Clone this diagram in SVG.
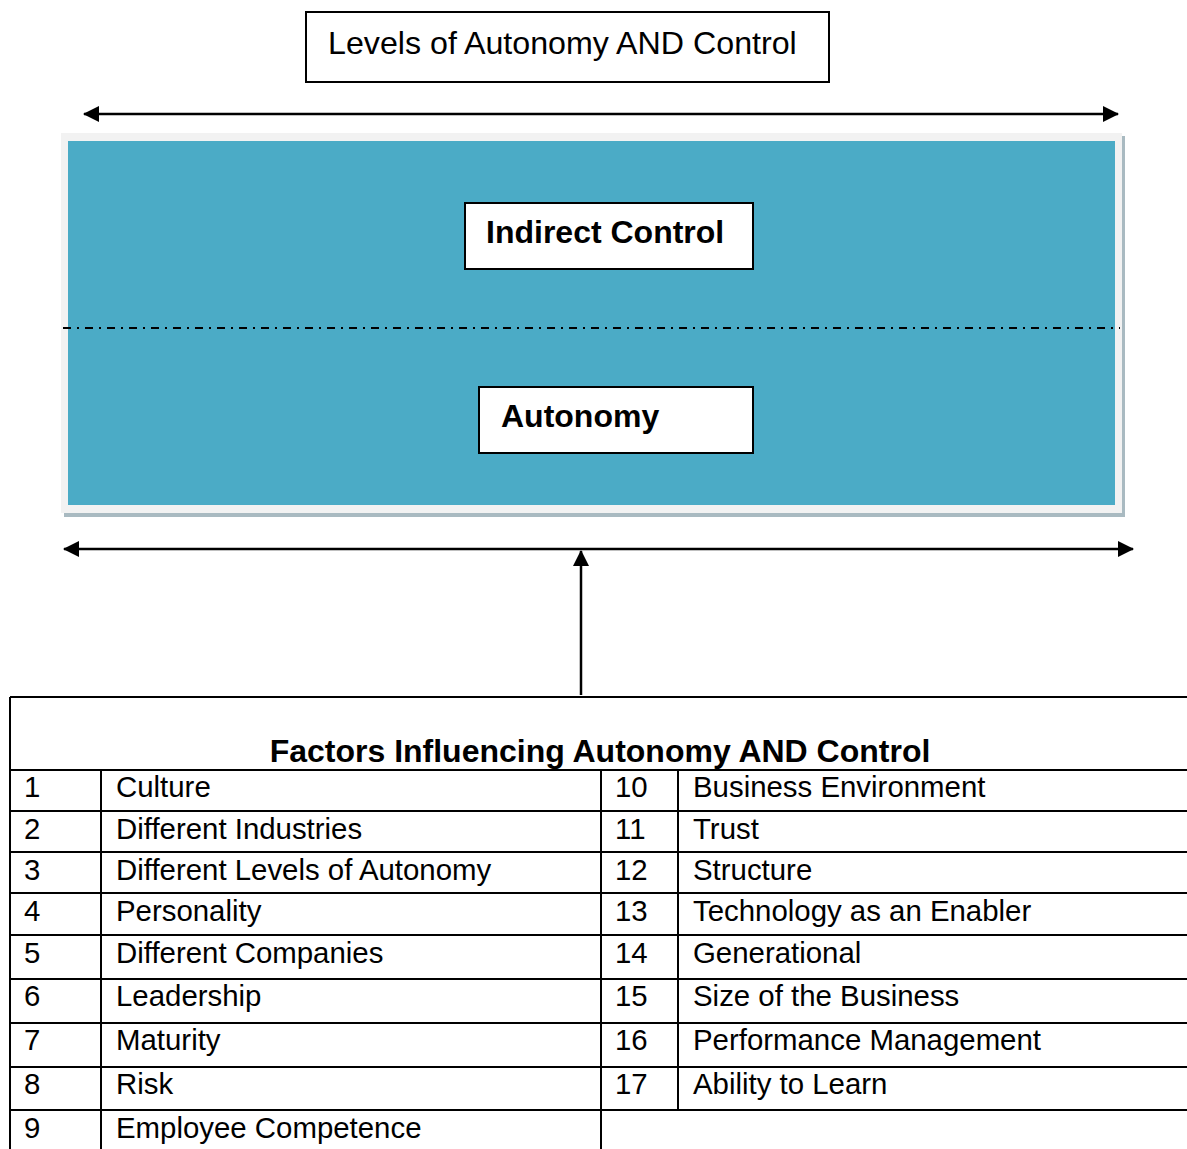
<svg xmlns="http://www.w3.org/2000/svg" width="1187" height="1149" viewBox="0 0 1187 1149">
<defs>
<marker id="ah" viewBox="0 0 16 16" refX="15" refY="8" markerWidth="16" markerHeight="16" markerUnits="userSpaceOnUse" orient="auto-start-reverse">
<path d="M0,0 L16,8 L0,16 Z" fill="#000"/>
</marker>
<style>
text{font-family:"Liberation Sans",Arial,sans-serif;fill:#000}
.t{font-size:29.4px}
.b{font-size:32px;font-weight:bold}
.box{fill:#fff;stroke:#000;stroke-width:2}
.ln{stroke:#000;stroke-width:2;fill:none}
.arr{stroke:#000;stroke-width:2.5;fill:none}
</style>
</defs>
<rect width="1187" height="1149" fill="#fff"/>

<g id="title">
<rect class="box" x="306" y="12" width="523" height="70"/>
<text x="328" y="54" style="font-size:32.2px">Levels of Autonomy AND Control</text>
</g>

<g id="panel">
<rect x="64" y="136" width="1061" height="381" fill="#a9bac1"/>
<rect x="61" y="133" width="1061" height="380" fill="#f2f2f2"/>
<rect x="68" y="141" width="1047" height="364" fill="#4babc6"/>
<line x1="63" y1="328" x2="1120" y2="328" stroke="#000" stroke-width="2" stroke-dasharray="8,6,2,6"/>
</g>

<g id="indirect-control">
<rect class="box" x="465" y="203" width="288" height="66"/>
<text class="b" x="486" y="243">Indirect Control</text>
</g>

<g id="autonomy">
<rect class="box" x="479" y="387" width="274" height="66"/>
<text class="b" x="501" y="427">Autonomy</text>
</g>

<g id="connectors">
<line class="arr" x1="84" y1="114" x2="1118" y2="114" marker-start="url(#ah)" marker-end="url(#ah)"/>
<line class="arr" x1="64" y1="549" x2="1133" y2="549" marker-start="url(#ah)" marker-end="url(#ah)"/>
<line class="arr" x1="581" y1="695" x2="581" y2="551" marker-end="url(#ah)"/>
</g>

<g id="factors-table">
<path class="ln" d="M10,697 H1187 M10,697 V1149 M10,770 H1187 M10,811 H1187 M10,852 H1187 M10,893 H1187 M10,935 H1187 M10,979 H1187 M10,1023 H1187 M10,1067 H1187 M10,1110 H1187 M101,770 V1149 M601,770 V1149 M678,770 V1110"/>
<text class="b" x="600" y="762" text-anchor="middle">Factors Influencing Autonomy AND Control</text>
<g class="t">
<text x="24" y="797">1</text><text x="116" y="797">Culture</text>
<text x="24" y="839">2</text><text x="116" y="839">Different Industries</text>
<text x="24" y="880">3</text><text x="116" y="880">Different Levels of Autonomy</text>
<text x="24" y="921">4</text><text x="116" y="921">Personality</text>
<text x="24" y="963">5</text><text x="116" y="963">Different Companies</text>
<text x="24" y="1006">6</text><text x="116" y="1006">Leadership</text>
<text x="24" y="1050">7</text><text x="116" y="1050">Maturity</text>
<text x="24" y="1094">8</text><text x="116" y="1094">Risk</text>
<text x="24" y="1138">9</text><text x="116" y="1138">Employee Competence</text>
<text x="615" y="797">10</text><text x="693" y="797">Business Environment</text>
<text x="615" y="839">11</text><text x="693" y="839">Trust</text>
<text x="615" y="880">12</text><text x="693" y="880">Structure</text>
<text x="615" y="921">13</text><text x="693" y="921">Technology as an Enabler</text>
<text x="615" y="963">14</text><text x="693" y="963">Generational</text>
<text x="615" y="1006">15</text><text x="693" y="1006">Size of the Business</text>
<text x="615" y="1050">16</text><text x="693" y="1050">Performance Management</text>
<text x="615" y="1094">17</text><text x="693" y="1094">Ability to Learn</text>
</g>
</g>
</svg>
